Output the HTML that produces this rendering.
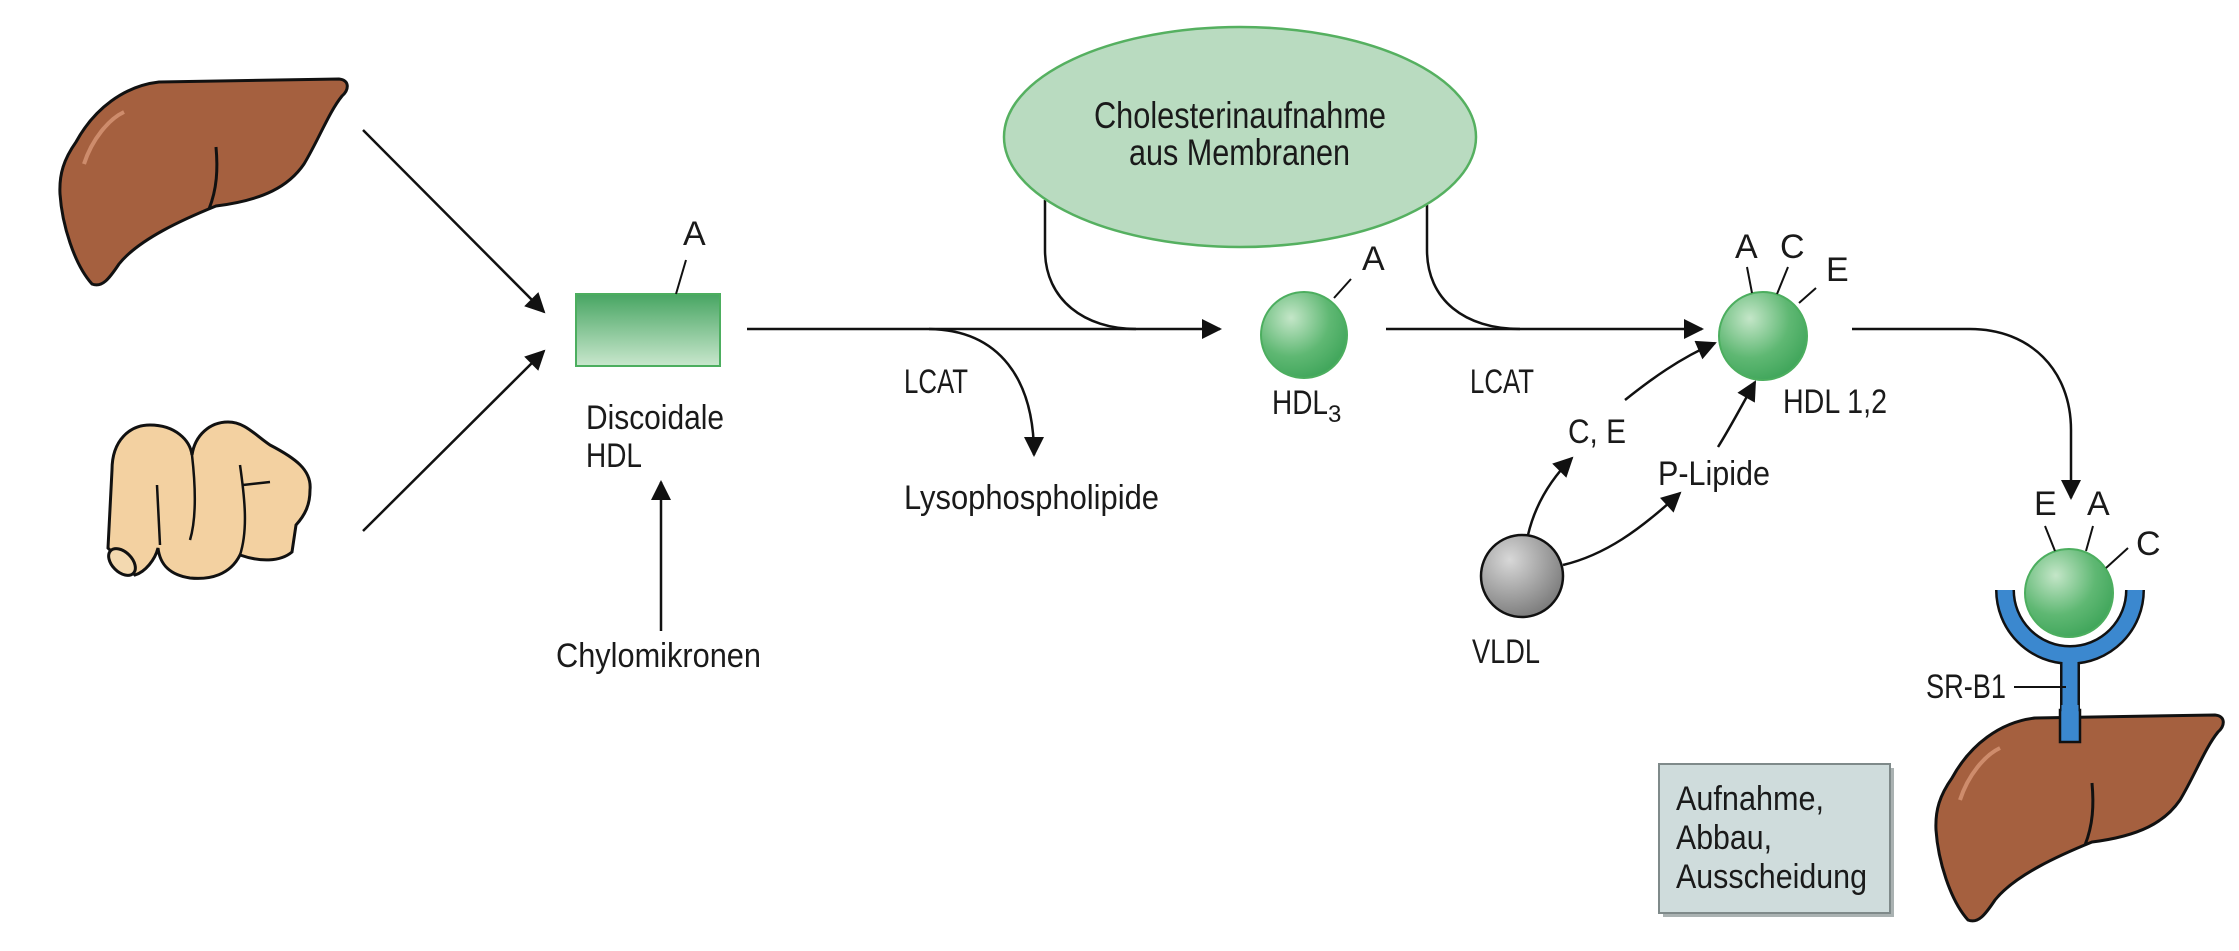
<!DOCTYPE html>
<html><head><meta charset="utf-8"><style>
html,body{margin:0;padding:0;background:#fff;}
svg{display:block;}
text{font-family:"Liberation Sans Narrow","Liberation Sans",sans-serif;fill:#1a1a1a;font-size:34px;}
</style></head><body>
<svg width="2239" height="951" viewBox="0 0 2239 951" xmlns="http://www.w3.org/2000/svg">
<defs>
<radialGradient id="gs" cx="0.35" cy="0.3" r="0.75"><stop offset="0" stop-color="#c4e6c8"/><stop offset="0.6" stop-color="#5fb873"/><stop offset="1" stop-color="#3fa55a"/></radialGradient>
<radialGradient id="gg" cx="0.35" cy="0.3" r="0.75"><stop offset="0" stop-color="#d8d8d8"/><stop offset="1" stop-color="#7a7a7a"/></radialGradient>
<linearGradient id="gr" x1="0" y1="0" x2="0" y2="1"><stop offset="0" stop-color="#47a562"/><stop offset="1" stop-color="#c9e7cd"/></linearGradient>
<marker id="ahb" viewBox="0 0 10 10" refX="9" refY="5" markerWidth="24" markerHeight="20" markerUnits="userSpaceOnUse" orient="auto"><path d="M0,0 L10,5 L0,10 Z" fill="#111"/></marker>
</defs>

<g transform="translate(-1876,-636)">
<path d="M1952,778 C1970,745 2000,722 2035,718 L2215,715 C2226,716 2225,726 2218,732 C2205,748 2195,775 2180,800 C2165,822 2140,836 2092,842 C2060,855 2015,875 1995,900 C1985,915 1978,924 1968,920 C1950,900 1938,860 1936,830 C1935,810 1940,795 1952,778 Z" fill="#a5603f" stroke="#111" stroke-width="3"/>
<path d="M2092,783 C2094,805 2093,825 2085,845" fill="none" stroke="#111" stroke-width="3"/>
<path d="M1960,800 C1968,775 1985,755 2000,748" fill="none" stroke="#e0a080" stroke-width="4" opacity="0.7"/>
</g>

<g>
<path d="M108,548 L112,470 C112,440 130,425 150,425 C175,425 190,440 192,455 C195,435 210,422 228,422 C245,422 255,435 270,445 C295,458 312,470 310,490 C310,505 305,515 296,525 L292,552 C280,562 260,562 240,555 C230,575 210,580 190,578 C170,575 160,565 158,548 C155,560 145,572 135,575 Z" fill="#f3d1a1" stroke="#111" stroke-width="3"/>
<ellipse cx="122" cy="562" rx="10" ry="16" transform="rotate(-45 122 562)" fill="#f3d9b0" stroke="#111" stroke-width="3"/>
<path d="M157,485 L160,545 M192,455 C196,490 196,520 190,540 M240,465 C245,500 248,530 240,555 M243,485 L270,482" fill="none" stroke="#111" stroke-width="2.5"/>
</g>

<line x1="363" y1="130" x2="544" y2="312" stroke="#111" stroke-width="2.5" marker-end="url(#ahb)"/>
<line x1="363" y1="531" x2="544" y2="351" stroke="#111" stroke-width="2.5" marker-end="url(#ahb)"/>

<rect x="576" y="294" width="144" height="72" fill="url(#gr)" stroke="#4cae5f" stroke-width="2"/>
<line x1="686" y1="260" x2="676" y2="294" stroke="#111" stroke-width="2"/>
<text x="683" y="245">A</text>
<text x="586" y="429" textLength="138" lengthAdjust="spacingAndGlyphs">Discoidale</text>
<text x="586" y="467" textLength="56" lengthAdjust="spacingAndGlyphs">HDL</text>
<line x1="661" y1="631" x2="661" y2="482" stroke="#111" stroke-width="2.5" marker-end="url(#ahb)"/>
<text x="556" y="667" textLength="205" lengthAdjust="spacingAndGlyphs">Chylomikronen</text>

<line x1="747" y1="329" x2="1220" y2="329" stroke="#111" stroke-width="2.5" marker-end="url(#ahb)"/>
<path d="M929,329 C1000,330 1034,380 1034,455" fill="none" stroke="#111" stroke-width="2.5" marker-end="url(#ahb)"/>
<text x="904" y="393" textLength="64" lengthAdjust="spacingAndGlyphs">LCAT</text>
<text x="904" y="509" textLength="255" lengthAdjust="spacingAndGlyphs">Lysophospholipide</text>

<path d="M1045,200 L1045,250 C1045,300 1085,329 1136,329" fill="none" stroke="#111" stroke-width="2.5"/>
<path d="M1427,205 L1427,250 C1427,300 1465,329 1520,329" fill="none" stroke="#111" stroke-width="2.5"/>
<ellipse cx="1240" cy="137" rx="236" ry="110" fill="#b9dbc0" stroke="#55b060" stroke-width="2.5"/>
<text x="1094" y="128" textLength="292" lengthAdjust="spacingAndGlyphs" style="font-size:37px">Cholesterinaufnahme</text>
<text x="1129" y="165" textLength="221" lengthAdjust="spacingAndGlyphs" style="font-size:37px">aus Membranen</text>

<circle cx="1304" cy="335" r="43" fill="url(#gs)" stroke="#4cae5f" stroke-width="2"/>
<line x1="1351" y1="279" x2="1334" y2="298" stroke="#111" stroke-width="2"/>
<text x="1362" y="270">A</text>
<text x="1272" y="414"><tspan textLength="56" lengthAdjust="spacingAndGlyphs">HDL</tspan><tspan dy="8" style="font-size:24px">3</tspan></text>

<line x1="1386" y1="329" x2="1702" y2="329" stroke="#111" stroke-width="2.5" marker-end="url(#ahb)"/>
<text x="1470" y="393" textLength="64" lengthAdjust="spacingAndGlyphs">LCAT</text>

<circle cx="1763" cy="336" r="44" fill="url(#gs)" stroke="#4cae5f" stroke-width="2"/>
<path d="M1747,267 L1752,293 M1788,267 L1777,294 M1816,288 L1799,303" stroke="#111" stroke-width="2" fill="none"/>
<text x="1735" y="258">A</text>
<text x="1780" y="258">C</text>
<text x="1826" y="281">E</text>
<text x="1783" y="413" textLength="104" lengthAdjust="spacingAndGlyphs">HDL 1,2</text>

<circle cx="1522" cy="576" r="41" fill="url(#gg)" stroke="#111" stroke-width="2.5"/>
<text x="1472" y="663" textLength="68" lengthAdjust="spacingAndGlyphs">VLDL</text>
<path d="M1528,535 C1535,505 1550,480 1572,458" fill="none" stroke="#111" stroke-width="2.5" marker-end="url(#ahb)"/>
<path d="M1563,565 C1605,555 1640,530 1680,493" fill="none" stroke="#111" stroke-width="2.5" marker-end="url(#ahb)"/>
<path d="M1625,400 C1650,380 1680,358 1715,343" fill="none" stroke="#111" stroke-width="2.5" marker-end="url(#ahb)"/>
<path d="M1718,447 C1730,428 1742,405 1755,382" fill="none" stroke="#111" stroke-width="2.5" marker-end="url(#ahb)"/>
<text x="1568" y="443" textLength="58" lengthAdjust="spacingAndGlyphs">C, E</text>
<text x="1658" y="485" textLength="112" lengthAdjust="spacingAndGlyphs">P-Lipide</text>

<path d="M1852,329 L1970,329 C2030,329 2071,370 2071,430 L2071,498" fill="none" stroke="#111" stroke-width="2.5" marker-end="url(#ahb)"/>

<path d="M2005,590 A65,65 0 0 0 2135,590 M2070,655 L2070,740" fill="none" stroke="#111" stroke-width="20"/>
<path d="M2005,590 A65,65 0 0 0 2135,590 M2070,655 L2070,740" fill="none" stroke="#3b88cf" stroke-width="15"/>
<circle cx="2069" cy="593" r="44" fill="url(#gs)" stroke="#4cae5f" stroke-width="2"/>
<path d="M2045,526 L2055,551 M2093,526 L2086,551 M2128,548 L2106,568" stroke="#111" stroke-width="2" fill="none"/>
<text x="2034" y="515">E</text>
<text x="2087" y="515">A</text>
<text x="2136" y="555">C</text>
<text x="1926" y="698" textLength="80" lengthAdjust="spacingAndGlyphs">SR-B1</text>
<line x1="2014" y1="687" x2="2066" y2="687" stroke="#111" stroke-width="2"/>

<g>
<path d="M1952,778 C1970,745 2000,722 2035,718 L2215,715 C2226,716 2225,726 2218,732 C2205,748 2195,775 2180,800 C2165,822 2140,836 2092,842 C2060,855 2015,875 1995,900 C1985,915 1978,924 1968,920 C1950,900 1938,860 1936,830 C1935,810 1940,795 1952,778 Z" fill="#a5603f" stroke="#111" stroke-width="3"/>
<path d="M2092,783 C2094,805 2093,825 2085,845" fill="none" stroke="#111" stroke-width="3"/>
<path d="M1960,800 C1968,775 1985,755 2000,748" fill="none" stroke="#e0a080" stroke-width="4" opacity="0.7"/>
<rect x="2060" y="710" width="20" height="32" fill="#3b88cf" stroke="#111" stroke-width="2.5"/>
<rect x="2061.5" y="705" width="17" height="10" fill="#3b88cf"/>
</g>

<g>
<rect x="1663" y="768" width="231" height="149" fill="#aab2b2"/>
<rect x="1659" y="764" width="231" height="149" fill="#cfdcdc" stroke="#7f8a8a" stroke-width="2"/>
<text x="1676" y="810" textLength="148" lengthAdjust="spacingAndGlyphs">Aufnahme,</text>
<text x="1676" y="849" textLength="96" lengthAdjust="spacingAndGlyphs">Abbau,</text>
<text x="1676" y="888" textLength="191" lengthAdjust="spacingAndGlyphs">Ausscheidung</text>
</g>
</svg>
</body></html>
